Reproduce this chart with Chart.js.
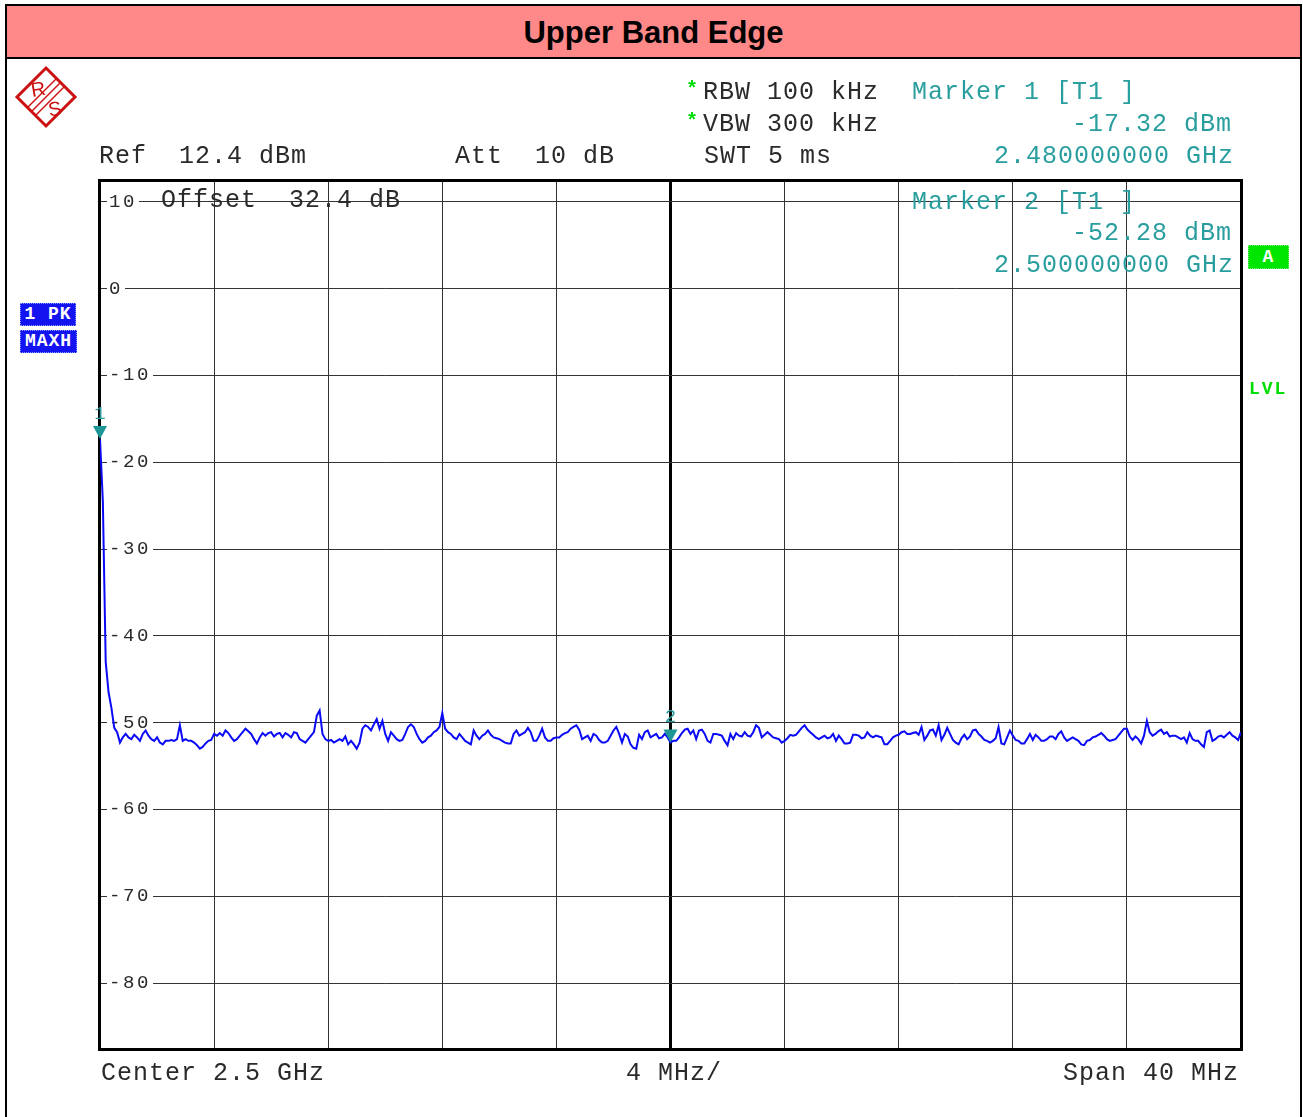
<!DOCTYPE html>
<html>
<head>
<meta charset="utf-8">
<title>Upper Band Edge</title>
<script src="https://cdn.jsdelivr.net/npm/chart.js@4.4.1/dist/chart.umd.min.js"></script>
<style>
  html, body { margin: 0; padding: 0; background: #fff; }
  #page { position: relative; width: 1303px; height: 1117px; overflow: hidden; background: #fff; }
  #plot { position: absolute; left: 0; top: 0; }
  .frame-v { position: absolute; top: 4px; bottom: 0; width: 2px; background: #000; }
  #title {
    position: absolute; left: 5px; top: 4px; width: 1293px; height: 51px;
    background: #ff8888; border: 2px solid #000;
    font: bold 31px "Liberation Sans", Arial, sans-serif; color: #000;
    text-align: center; line-height: 54px;
  }
  .t {
    position: absolute; font: 25px "Liberation Mono", monospace; letter-spacing: 1px;
    white-space: pre; line-height: 25px; color: #2a2a2a; z-index: 2;
  }
  .teal { color: #2a9e9e; }
  .star { position: absolute; font: bold 20px "Liberation Mono", monospace; color: #00dd00; line-height: 20px; }
  .tag {
    position: absolute; font: bold 18px "Liberation Mono", monospace; letter-spacing: 1px;
    color: #fff; white-space: pre; text-align: center; box-sizing: border-box;
  }
  .blue { background: #1414f0; border: 1px dotted #8aa0ff; }
  .green { background: #00e600; border: 1px dotted #80ff80; }
  #lvl { position: absolute; left: 1249px; top: 379px; font: bold 18px "Liberation Mono", monospace; color: #00dd00; letter-spacing: 2px; }
  #logo { position: absolute; left: 12px; top: 64px; }
</style>
</head>
<body>
<div id="page">
  <canvas id="plot" width="1303" height="1117"></canvas>

  <div class="frame-v" style="left:5px"></div>
  <div class="frame-v" style="left:1300px"></div>
  <div id="title">Upper Band Edge</div>

  <svg id="logo" width="70" height="70" viewBox="12 64 70 70">
    <polygon points="46,68 75,97 46,126 17,97" fill="none" stroke="#cc1111" stroke-width="3"/>
    <g stroke="#cc1111" stroke-width="1.4">
      <line x1="27" y1="108" x2="57" y2="78"/>
      <line x1="31" y1="112" x2="61" y2="82"/>
      <line x1="35" y1="116" x2="65" y2="86"/>
    </g>
    <text x="31" y="96" font-family="Liberation Sans, sans-serif" font-size="20" fill="#cc1111" transform="rotate(-10 37 90)">R</text>
    <text x="48" y="116" font-family="Liberation Sans, sans-serif" font-size="20" fill="#cc1111" transform="rotate(-10 53 108)">S</text>
  </svg>

  <!-- instrument settings -->
  <div class="star" style="left:686px; top:80px">*</div>
  <div class="t" style="left:703px; top:80px">RBW 100 kHz</div>
  <div class="star" style="left:686px; top:112px">*</div>
  <div class="t" style="left:703px; top:112px">VBW 300 kHz</div>
  <div class="t" style="left:704px; top:144px">SWT 5 ms</div>
  <div class="t" style="left:99px; top:144px">Ref  12.4 dBm</div>
  <div class="t" style="left:455px; top:144px">Att  10 dB</div>
  <div class="t" style="left:161px; top:188px">Offset  32.4 dB</div>

  <!-- marker readouts -->
  <div class="t teal" style="left:912px; top:80px">Marker 1 [T1 ]</div>
  <div class="t teal" style="left:1072px; top:112px">-17.32 dBm</div>
  <div class="t teal" style="left:994px; top:144px">2.480000000 GHz</div>
  <div class="t teal" style="left:912px; top:190px">Marker 2 [T1 ]</div>
  <div class="t teal" style="left:1072px; top:221px">-52.28 dBm</div>
  <div class="t teal" style="left:994px; top:253px">2.500000000 GHz</div>

  <!-- trace / status tags -->
  <div class="tag blue" style="left:20px; top:303px; width:56px; height:23px; line-height:21px">1 PK</div>
  <div class="tag blue" style="left:20px; top:330px; width:57px; height:23px; line-height:21px">MAXH</div>
  <div class="tag green" style="left:1248px; top:245px; width:41px; height:24px; line-height:22px">A</div>
  <div id="lvl">LVL</div>

  <!-- frequency axis annotations -->
  <div class="t" style="left:101px; top:1061px">Center 2.5 GHz</div>
  <div class="t" style="left:626px; top:1061px">4 MHz/</div>
  <div class="t" style="left:1063px; top:1061px">Span 40 MHz</div>
</div>

<script>
// Sweep: 2.48 GHz to 2.52 GHz, 401 points (0.1 MHz per point), levels in dBm
const sweepStartMHz = 2480;
const sweepStepMHz = 0.1;
const traceLevel = [
  -17.32, -24.5, -43.0, -46.5, -48.3, -50.6, -51.1, -52.3, -51.7, -51.3,
  -51.7, -51.9, -51.4, -51.7, -52.1, -51.3, -50.9, -51.5, -51.9, -52.1,
  -51.7, -52.3, -52.5, -52.1, -52.1, -52.0, -52.1, -51.9, -50.3, -52.1,
  -51.9, -52.1, -52.1, -52.3, -52.6, -53.0, -52.8, -52.4, -52.1, -52.0,
  -51.3, -51.5, -51.2, -51.5, -50.9, -51.2, -51.7, -52.1, -51.9, -51.5,
  -51.1, -50.7, -51.0, -51.3, -51.9, -52.4, -51.7, -51.2, -51.5, -51.2,
  -51.1, -51.6, -51.3, -51.2, -51.7, -51.2, -51.4, -51.7, -51.1, -51.2,
  -51.9, -52.1, -52.3, -51.9, -51.5, -51.1, -49.2, -48.6, -51.3, -51.9,
  -52.1, -52.0, -52.3, -52.1, -51.9, -52.1, -51.6, -52.5, -52.1, -52.5,
  -53.0, -52.3, -50.7, -50.3, -50.5, -50.9, -50.2, -49.6, -50.7, -49.8,
  -51.3, -52.1, -51.1, -51.5, -51.9, -52.1, -52.0, -51.3, -50.5, -50.2,
  -50.5, -51.3, -51.9, -52.3, -52.1, -51.7, -51.5, -51.1, -50.9, -50.5,
  -48.9, -50.7, -51.1, -51.3, -51.7, -51.9, -51.3, -51.7, -52.1, -52.3,
  -52.5, -50.9, -51.5, -51.9, -51.5, -51.3, -50.9, -51.4, -51.7, -51.8,
  -51.9, -52.1, -52.3, -52.4, -52.4, -51.3, -50.9, -51.5, -51.3, -51.1,
  -50.6, -51.1, -52.1, -52.1, -51.5, -50.7, -51.7, -52.1, -52.1, -51.8,
  -51.7, -51.7, -51.4, -51.2, -51.1, -50.7, -50.5, -50.3, -50.8, -51.9,
  -51.7, -51.5, -52.1, -51.3, -51.5, -52.0, -52.3, -52.3, -52.1, -51.5,
  -50.9, -50.5, -51.3, -52.3, -51.3, -51.6, -52.5, -52.9, -53.0, -51.4,
  -51.9, -51.1, -50.9, -51.7, -51.5, -51.3, -51.8, -51.7, -51.3, -51.7,
  -52.28, -52.1, -52.1, -51.7, -51.2, -50.8, -50.7, -51.3, -50.9, -51.9,
  -50.9, -50.8, -51.3, -52.1, -52.3, -51.3, -51.3, -51.4, -51.5, -52.1,
  -52.6, -51.3, -51.9, -51.2, -51.5, -51.6, -51.1, -51.5, -51.6, -51.1,
  -50.3, -50.6, -51.7, -51.4, -51.1, -51.4, -51.7, -51.8, -51.9, -52.3,
  -52.1, -51.8, -51.4, -51.5, -51.4, -51.0, -50.6, -50.3, -50.8, -51.1,
  -51.4, -51.7, -51.9, -51.7, -51.5, -51.8, -51.7, -51.3, -52.1, -51.5,
  -51.9, -52.4, -52.4, -52.3, -51.4, -51.4, -51.5, -51.8, -51.7, -51.1,
  -51.5, -51.7, -51.5, -51.6, -51.7, -52.5, -52.5, -52.1, -51.7, -51.5,
  -51.4, -51.1, -51.0, -51.3, -51.3, -51.2, -51.1, -51.4, -50.5, -52.0,
  -51.5, -50.9, -50.8, -51.5, -50.3, -52.0, -51.4, -50.6, -51.3, -52.0,
  -52.3, -52.5, -51.8, -51.4, -51.9, -51.6, -50.9, -50.8, -51.3, -51.6,
  -52.0, -52.1, -52.3, -52.1, -51.8, -50.5, -52.4, -52.5, -51.7, -50.9,
  -51.5, -52.0, -52.1, -52.4, -52.4, -51.9, -51.3, -52.0, -51.4, -51.7,
  -52.1, -52.1, -51.9, -51.6, -51.6, -51.9, -51.3, -51.0, -51.7, -52.1,
  -51.9, -51.7, -51.9, -52.1, -52.5, -52.6, -52.1, -52.0, -51.7, -51.6,
  -51.4, -51.2, -51.5, -51.9, -52.1, -52.0, -51.9, -51.5, -51.1, -50.7,
  -50.7, -51.6, -52.0, -51.6, -51.9, -52.4, -51.5, -49.8, -51.1, -51.5,
  -51.3, -51.0, -50.8, -51.3, -51.1, -51.6, -51.5, -51.5, -51.7, -51.9,
  -51.7, -52.3, -51.2, -51.9, -52.1, -52.1, -52.5, -52.8, -51.1, -50.9,
  -52.1, -51.9, -51.6, -51.5, -51.7, -51.4, -51.1, -51.5, -51.7, -52.0,
  -51.1
];

// Markers placed on the trace
const markerLabels = ['1', '2'];
const markerFreqMHz = [2480, 2500];
const markerLevel = [-17.32, -52.28];

// Level axis: Ref 12.4 dBm, 10 dB/div
const levelTicks = [-80, -70, -60, -50, -40, -30, -20, -10, 0, 10];
const levelMin = -87.6;
const levelMax = 12.4;
const freqMin = 2480;
const freqMax = 2520;
const freqDiv = 4;
const centerFreq = 2500;

const freqMHz = traceLevel.map((_, i) => sweepStartMHz + i * sweepStepMHz);
const tracePoints = traceLevel.map((v, i) => ({ x: freqMHz[i], y: v }));

const monoSpacing = {
  id: 'monoSpacing',
  beforeUpdate(chart) { chart.ctx.letterSpacing = '2.6px'; },
  beforeDraw(chart) { chart.ctx.letterSpacing = '2.6px'; }
};

const diagramFrame = {
  id: 'diagramFrame',
  beforeDatasetsDraw(chart) {
    const { ctx, chartArea: a } = chart;
    ctx.save();
    ctx.strokeStyle = '#000';
    ctx.lineWidth = 3;
    ctx.strokeRect(a.left - 0.5, a.top - 0.5, a.right - a.left + 1, a.bottom - a.top + 1);
    ctx.restore();
  }
};

const markerSymbols = {
  id: 'markerSymbols',
  afterDatasetsDraw(chart) {
    const { ctx, scales } = chart;
    ctx.save();
    markerLabels.forEach((lab, i) => {
      const px = scales.x.getPixelForValue(markerFreqMHz[i]);
      const py = scales.y.getPixelForValue(markerLevel[i]);
      ctx.fillStyle = '#1f9696';
      ctx.beginPath();
      ctx.moveTo(px - 7, py - 13);
      ctx.lineTo(px + 7, py - 13);
      ctx.lineTo(px, py);
      ctx.closePath();
      ctx.fill();
      ctx.font = '19px "Liberation Mono", monospace';
      ctx.letterSpacing = '0px';
      ctx.textAlign = 'center';
      ctx.textBaseline = 'middle';
      ctx.fillStyle = '#2a9e9e';
      ctx.fillText(lab, px, py - 25);
    });
    ctx.restore();
  }
};

new Chart(document.getElementById('plot'), {
  type: 'line',
  data: {
    datasets: [{
      label: 'Trace 1 (PK, MAXH)',
      data: tracePoints,
      borderColor: '#0a0af5',
      borderWidth: 2,
      pointRadius: 0,
      tension: 0,
      fill: false
    }]
  },
  options: {
    responsive: false,
    animation: false,
    devicePixelRatio: 1,
    layout: { padding: { left: 100, top: 181, right: 62, bottom: 68 } },
    plugins: { legend: { display: false }, tooltip: { enabled: false }, title: { display: false } },
    scales: {
      x: {
        type: 'linear',
        min: freqMin,
        max: freqMax,
        ticks: { display: false, stepSize: freqDiv },
        grid: {
          drawTicks: false,
          color: (c) => (c.tick && c.tick.value === centerFreq ? '#000' : '#333'),
          lineWidth: (c) => (c.tick && c.tick.value === centerFreq ? 3 : 1)
        },
        border: { display: false },
        afterFit(s) { s.height = 0; }
      },
      y: {
        type: 'linear',
        min: levelMin,
        max: levelMax,
        afterBuildTicks(s) { s.ticks = levelTicks.map((v) => ({ value: v })); },
        ticks: {
          mirror: true,
          padding: 9,
          color: '#2a2a2a',
          font: { family: '"Liberation Mono", monospace', size: 19 },
          showLabelBackdrop: true,
          backdropColor: '#fff',
          backdropPadding: { x: 2, y: 0 },
          callback: (v) => String(v)
        },
        grid: { drawTicks: false, color: '#333', lineWidth: 1 },
        border: { display: false },
        afterFit(s) { s.width = 0; }
      }
    }
  },
  plugins: [monoSpacing, diagramFrame, markerSymbols]
});
</script>
</body>
</html>
